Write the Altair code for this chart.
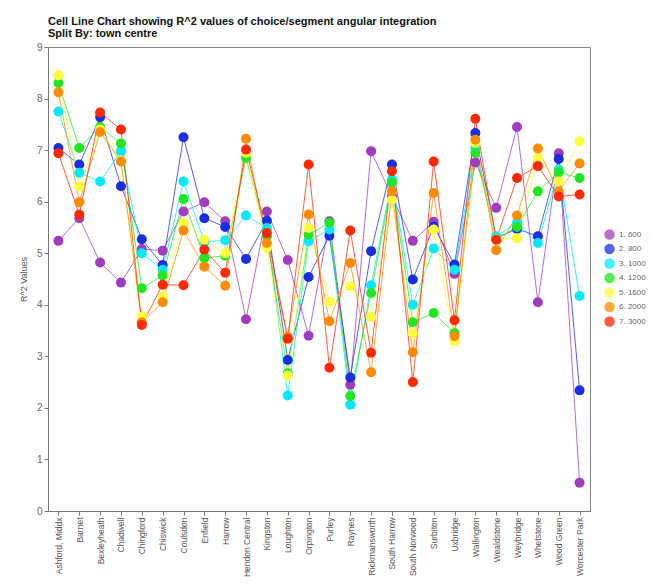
import altair as alt
import pandas as pd

categories = ["Ashford, Middx", "Barnet", "Bexleyheath", "Chadwell", "Chingford", "Chiswick",
              "Coulsdon", "Enfield", "Harrow", "Hendon Central", "Kingston", "Loughton",
              "Orpington", "Purley", "Raynes", "Rickmansworth", "South Harrow", "South Norwood",
              "Surbiton", "Uxbridge", "Wallington", "Wealdstone", "Weybridge", "Whetstone",
              "Wood Green", "Worcester Park"]

series_names = ["1. 600", "2. 800", "3. 1000", "4. 1200", "5. 1600", "6. 2000", "7. 3000"]
series_colors = ["#a03cc0", "#1a2ee0", "#00eaff", "#22e622", "#ffff3c", "#ff8c00", "#ff2a00"]

s600 = [5.24, 5.68, 4.82, 4.43, 5.08, 5.05, 5.81, 5.99, 5.62, 3.72, 5.81, 4.87, 3.40, 5.62, 2.45, 6.98, 6.10, 5.24, 5.61, 4.60, 6.76, 5.88, 7.45, 4.05, 6.94, 0.55]
s800 = [7.04, 6.72, 7.64, 6.30, 5.27, 4.77, 7.25, 5.68, 5.51, 4.89, 5.63, 2.93, 4.54, 5.34, 2.59, 5.04, 6.72, 4.49, 5.52, 4.78, 7.33, 5.30, 5.47, 5.33, 6.83, 2.34]
s1000 = [7.75, 6.56, 6.39, 6.98, 5.00, 4.68, 6.39, 5.22, 5.25, 5.73, 5.49, 2.24, 5.23, 5.46, 2.06, 4.38, 6.43, 4.00, 5.09, 4.68, 7.04, 5.33, 5.59, 5.20, 6.62, 4.17]
s1200 = [8.30, 7.04, 7.45, 7.13, 4.32, 4.57, 6.05, 4.91, 4.95, 6.85, 5.33, 2.67, 5.36, 5.59, 2.23, 4.23, 6.37, 3.66, 3.84, 3.45, 6.95, 5.27, 5.51, 6.20, 6.57, 6.46]
s1600 = [8.45, 6.30, 7.40, 6.80, 3.77, 4.16, 5.59, 5.26, 5.00, 6.95, 5.10, 2.63, 5.49, 4.06, 4.36, 3.77, 6.04, 3.45, 5.46, 3.29, 7.14, 5.27, 5.29, 6.85, 6.39, 7.17]
s2000 = [8.12, 5.99, 7.35, 6.78, 3.66, 4.05, 5.44, 4.74, 4.37, 7.22, 5.20, 3.38, 5.75, 3.68, 4.81, 2.69, 6.20, 3.08, 6.17, 3.39, 7.20, 5.06, 5.73, 7.03, 6.20, 6.74]
s3000 = [6.94, 5.75, 7.73, 7.40, 3.61, 4.39, 4.38, 5.07, 4.62, 7.01, 5.39, 3.34, 6.72, 2.78, 5.44, 3.07, 6.59, 2.50, 6.78, 3.70, 7.61, 5.26, 6.46, 6.69, 6.10, 6.14]

all_series = [s600, s800, s1000, s1200, s1600, s2000, s3000]
y_ticks = [0, 1, 2, 3, 4, 5, 6, 7, 8, 9]

rows = []
for k, (name, vals) in enumerate(zip(series_names, all_series)):
    for c, v in zip(categories, vals):
        rows.append({"town": c, "series": name, "value": v, "order": k})
df = pd.DataFrame(rows)

x_enc = alt.X("town:N", sort=categories, title=None,
              scale=alt.Scale(padding=0.5),
              axis=alt.Axis(labelAngle=270, labelFontSize=8.5, labelColor="#555555",
                            labelFont="Liberation Sans", domainColor="#777777",
                            tickColor="#777777", tickSize=4, labelPadding=2))
y_enc = alt.Y("value:Q", title="R^2 Values",
              scale=alt.Scale(domain=[0, 9], nice=False),
              axis=alt.Axis(values=y_ticks, labelFontSize=10, labelColor="#666666",
                            labelFont="Liberation Sans", titleFont="Liberation Sans",
                            titleFontSize=9, titleColor="#555555", titleFontWeight="normal",
                            domainColor="#777777", tickColor="#777777", tickSize=4,
                            grid=False, titlePadding=8))
color_enc = alt.Color("series:N", sort=series_names,
                      scale=alt.Scale(domain=series_names, range=series_colors),
                      legend=alt.Legend(title=None, orient="none", legendX=556, legendY=182,
                                        symbolType="circle", symbolSize=110, labelFontSize=8,
                                        labelColor="#666666", labelFont="Liberation Sans",
                                        rowPadding=3.5, symbolStrokeWidth=0))

base = alt.Chart(df)
lines = base.mark_line(strokeWidth=1, opacity=0.75).encode(
    x=x_enc, y=y_enc, color=color_enc, detail="series:N")
points = base.mark_circle(size=100, opacity=1).encode(
    x=x_enc, y=y_enc, color=color_enc, order="order:Q")

chart = alt.layer(lines, points).properties(
    width=542, height=464,
    autosize=alt.AutoSizeParams(type="none"),
    padding={"left": 40, "top": 39, "right": 58, "bottom": 75},
    title=alt.TitleParams(
        text=["Cell Line Chart showing R^2 values of choice/segment angular integration",
              "Split By: town centre"],
        anchor="start", frame="group", fontSize=11, fontWeight="bold", font="Liberation Sans",
        color="#111111", lineHeight=12, offset=3),
).configure_view(stroke="#888888", strokeWidth=1)

chart.save("out.html", embed_options={"renderer": "svg", "actions": False})
